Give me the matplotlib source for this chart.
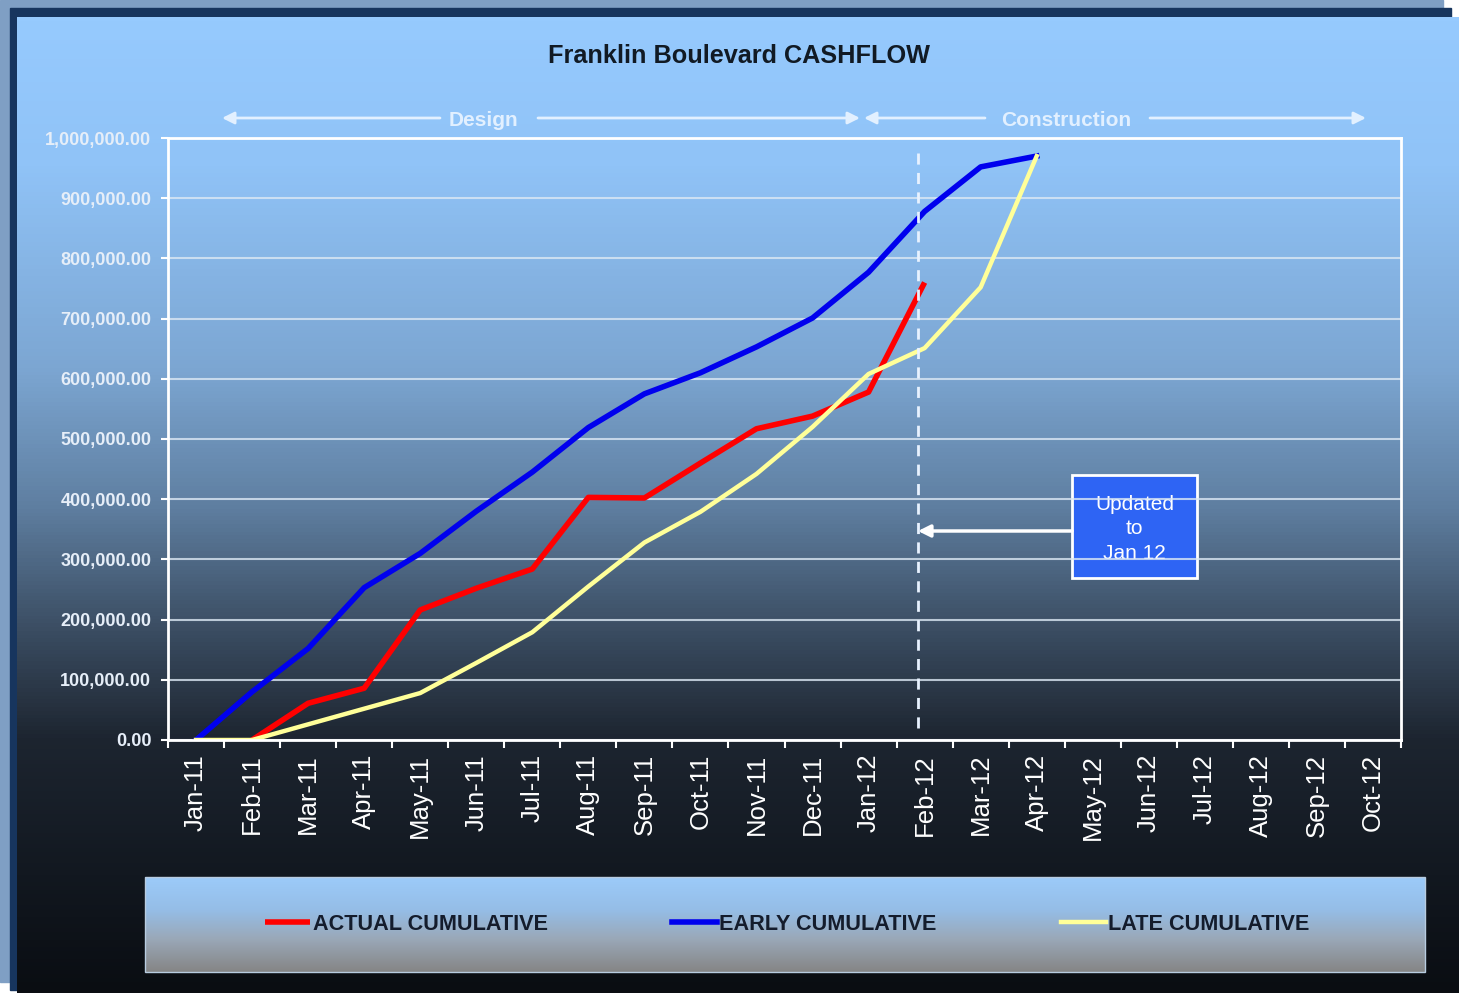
import numpy as np
import matplotlib
matplotlib.use("Agg")
import matplotlib.pyplot as plt
from matplotlib.colors import LinearSegmentedColormap
from matplotlib.patches import Rectangle

plt.rcParams['font.family'] = ['Liberation Sans', 'DejaVu Sans']

# Data
months = ["Jan-11", "Feb-11", "Mar-11", "Apr-11", "May-11", "Jun-11", "Jul-11", "Aug-11",
          "Sep-11", "Oct-11", "Nov-11", "Dec-11", "Jan-12", "Feb-12", "Mar-12", "Apr-12",
          "May-12", "Jun-12", "Jul-12", "Aug-12", "Sep-12", "Oct-12"]
actual = [np.nan, 0, 61000, 86000, 216000, 252000, 284000, 403000, 402000, 460000,
          517000, 538000, 578000, 760000]
early = [0, 80000, 152000, 253000, 310000, 380000, 445000, 519000, 575000, 610000,
         653000, 701000, 777000, 878000, 952000, 970000]
late = [0, 0, 26000, 52000, 78000, 128000, 179000, 255000, 328000, 379000,
        442000, 520000, 608000, 651000, 752000, 970000]
update_x = 12.88   # position of the "updated to" dashed line (category units)

W, H = 1465, 993
fig = plt.figure(figsize=(W / 100, H / 100), dpi=100, facecolor='white')

# background frame + gradient panel (pixel coords)
bg = fig.add_axes([0, 0, 1, 1])
bg.axis('off')
bg.add_patch(Rectangle((0, 0), 1443, 982, color='#7f9fc4', zorder=1))
bg.add_patch(Rectangle((10, 8), 1441, 982, color='#17355e', zorder=1))
grad = np.linspace(0, 1, 256).reshape(-1, 1)
cmap = LinearSegmentedColormap.from_list('panel', [
    (0.0, '#96cafe'), (0.15, '#90c3f7'), (0.36, '#7ca6d2'), (0.5, '#5f7fa1'),
    (0.62, '#3d5066'), (0.74, '#1d2530'), (0.88, '#121820'), (1.0, '#0a0d12')])
bg.imshow(grad, cmap=cmap, extent=(17, 1459, 993, 17), aspect='auto', zorder=2)

# legend panel
cmap_leg = LinearSegmentedColormap.from_list('leg', [
    (0.0, '#9ccbfa'), (0.35, '#95bde6'), (0.65, '#9aa8b8'), (1.0, '#858585')])
bg.imshow(grad, cmap=cmap_leg, extent=(145, 1425, 972, 877), aspect='auto', zorder=3)
bg.add_patch(Rectangle((145, 877), 1280, 95, fill=False, ec='#b8cce0', lw=1, zorder=4))

# Design / Construction arrows
acol = '#e2f0ff'
aprops = dict(arrowstyle='-|>', color=acol, lw=2, mutation_scale=18, shrinkA=0, shrinkB=0)
bg.annotate('', xy=(222, 118), xytext=(440, 118), arrowprops=aprops, zorder=4)
bg.annotate('', xy=(860, 118), xytext=(538, 118), arrowprops=aprops, zorder=4)
bg.annotate('', xy=(864, 118), xytext=(985, 118), arrowprops=aprops, zorder=4)
bg.annotate('', xy=(1366, 118), xytext=(1150, 118), arrowprops=aprops, zorder=4)
bg.text(483, 120, "Design", ha='center', va='center', fontsize=15, fontweight='bold',
        color=acol, zorder=4)
bg.text(1066, 120, "Construction", ha='center', va='center', fontsize=15, fontweight='bold',
        color=acol, zorder=4)

# "Updated to Jan 12" box and arrow
bg.add_patch(Rectangle((1072, 475), 125, 103, fc='#2e64f4', ec='white', lw=2, zorder=5))
bg.text(1134.5, 529, "Updated\nto\nJan 12", ha='center', va='center', fontsize=15,
        color='white', linespacing=1.35, zorder=6)
bg.annotate('', xy=(918, 531), xytext=(1072, 531),
            arrowprops=dict(arrowstyle='-|>', color='white', lw=2.5, mutation_scale=18,
                            shrinkA=0, shrinkB=0), zorder=5)
bg.set_xlim(0, W)
bg.set_ylim(H, 0)

# title
fig.text(739 / W, 1 - 56 / H, "Franklin Boulevard CASHFLOW", ha='center', va='center',
         fontsize=18.2, fontweight='bold', color='#111a24')

# main plot
ax = fig.add_axes([168 / W, 1 - 740 / H, (1401 - 168) / W, (740 - 138) / H])
ax.patch.set_alpha(0)
l1, = ax.plot(range(len(actual)), actual, color='#ff0000', lw=4.0, solid_capstyle='butt')
l2, = ax.plot(range(len(early)), early, color='#0000ee', lw=4.0)
l3, = ax.plot(range(len(late)), late, color='#ffff99', lw=3.2)
ax.axvline(update_x, ymin=0.02, ymax=0.988, color='#e8f2ff', lw=2, ls=(0, (4, 3)))

ax.set_xlim(-0.5, len(months) - 0.5)
ax.set_ylim(0, 1000000)
yt = np.arange(0, 1000001, 100000)
ax.set_yticks(yt)
ax.set_yticklabels([f"{v:,.2f}" for v in yt], fontsize=13, fontweight='bold', color='#e6eef8')
ax.set_xticks(np.arange(len(months) + 1) - 0.5)
ax.set_xticklabels([])
ax.set_xticks(np.arange(len(months)), minor=True)
ax.set_xticklabels(months, minor=True, rotation=90, fontsize=18.5, color='white', va='top')
ax.tick_params(axis='x', which='major', colors='white', length=6, width=1.5)
ax.tick_params(axis='x', which='minor', length=0, pad=10)
ax.tick_params(axis='y', colors='white', length=5, width=1.5, pad=7)
for lab in ax.get_yticklabels():
    lab.set_color('#e6eef8')
ax.grid(axis='y', color='#dce8f4', lw=1.5, alpha=0.8)
for s in ax.spines.values():
    s.set_color('white')
    s.set_linewidth(2)

# legend
fig.legend([l1, l2, l3], ["ACTUAL CUMULATIVE", "EARLY CUMULATIVE", "LATE CUMULATIVE"],
           loc='center left', bbox_to_anchor=(265 / W, 1 - 924 / H), ncol=3, frameon=False,
           prop={'weight': 'bold', 'size': 15.55}, labelcolor='#141c2c',
           handlelength=2.1, handletextpad=0.1, columnspacing=5.75,
           borderpad=0, borderaxespad=0)

fig.savefig("out.png", dpi=100)
